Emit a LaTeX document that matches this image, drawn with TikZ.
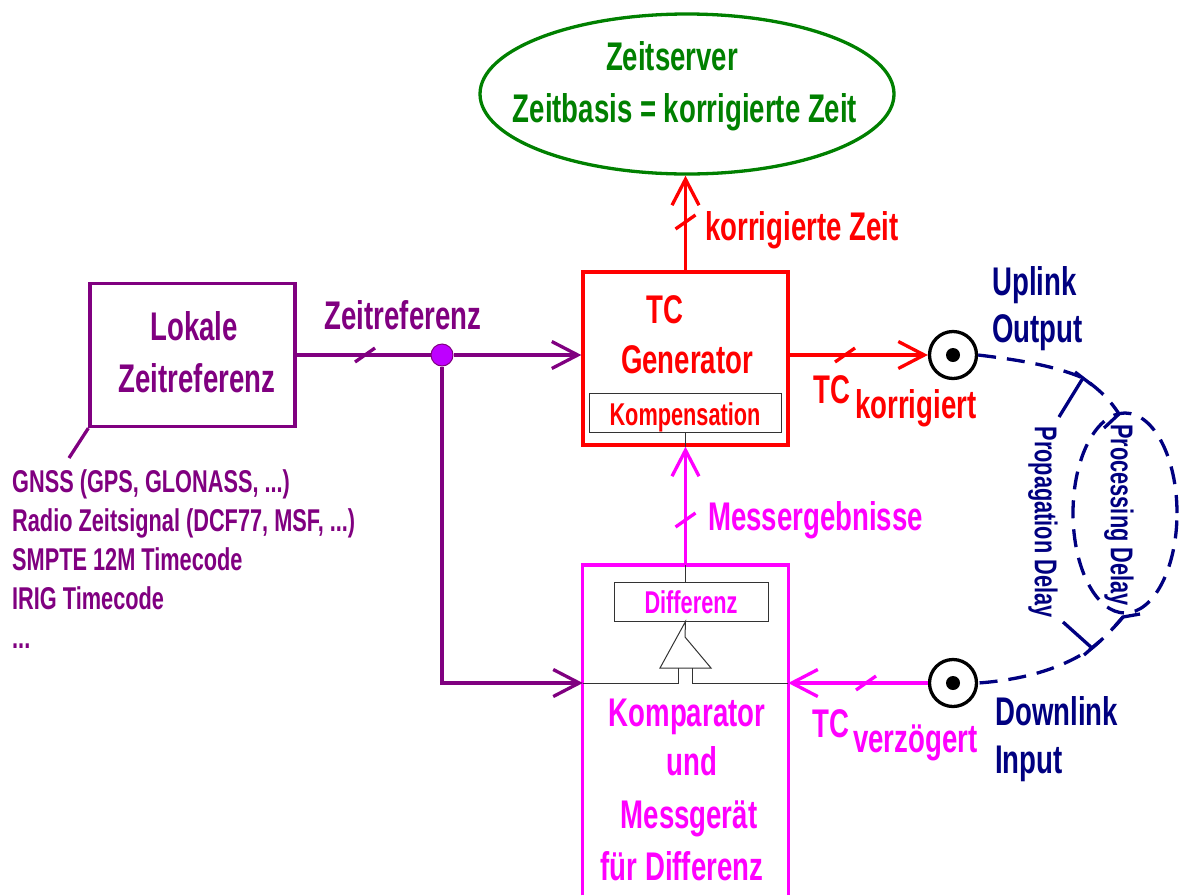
\documentclass[tikz,border=0pt]{standalone}
\usepackage{fontspec}
\setmainfont[FakeStretch=0.69]{Liberation Sans}
\usepackage{tikz}
\usepackage{xcolor}
\usetikzlibrary{shapes.geometric, arrows.meta, positioning}
\definecolor{lila}{RGB}{128,0,128}
\definecolor{punkt}{RGB}{190,0,255}
\definecolor{rot}{RGB}{255,0,0}
\definecolor{rosa}{RGB}{255,0,255}
\definecolor{gruen}{RGB}{0,128,0}
\definecolor{blau}{RGB}{0,0,128}
\tikzstyle{block}=[line width=3.3pt,draw,rectangle]
\tikzstyle{innen}=[line width=1pt,draw=black!80,rectangle]
\tikzstyle{duenn}=[line width=1pt,black!80]
\tikzstyle{txt}=[inner sep=0pt,anchor=base,font=\bfseries\fontsize{40}{44}\selectfont]
\tikzstyle{klein}=[inner sep=0pt,anchor=base,font=\bfseries\fontsize{31.5}{34}\selectfont]
\tikzstyle{leitung}=[line width=3.3pt]
\tikzstyle{pfeil}=[line width=3.3pt,-{Straight Barb[length=26pt,width=27pt]}]
\tikzstyle{port}=[line width=3.3pt,draw=black,circle,minimum size=47pt,inner sep=0pt]
\tikzstyle{delay}=[line width=3.3pt,draw=blau,dash pattern=on 18pt off 11pt]
\tikzset{tick/.pic={\draw[line width=3.3pt] (-10pt,-7pt) -- (10pt,7pt);}}

\begin{document}
\begin{tikzpicture}[x=1pt,y=-1pt]
	\useasboundingbox (0,0) rectangle (1180,895);

	% Zeitserver
	\node [ellipse, draw=gruen, line width=3.3pt, minimum width=414pt, minimum height=160pt] (server) at (687,94) {};
	\node [txt, gruen] (servername) at (672,70) {Zeitserver};
	\node [txt, gruen] (zeitbasis) at (685,122) {Zeitbasis = korrigierte Zeit};

	% Lokale Zeitreferenz
	\node [block, draw=lila, minimum width=205pt, minimum height=143pt] (lokal) at (192.5,355) {};
	\node [txt, lila] (lokal1) at (194,340) {Lokale};
	\node [txt, lila] (lokal2) at (197,392) {Zeitreferenz};
	\coordinate (quellenstrich) at (69,458);
	\node [klein, lila, anchor=base west] (gnss) at (12,492) {GNSS (GPS, GLONASS, ...)};
	\node [klein, lila, anchor=base west] (radio) at (12,531) {Radio Zeitsignal (DCF77, MSF, ...)};
	\node [klein, lila, anchor=base west] (smpte) at (12,570) {SMPTE 12M Timecode};
	\node [klein, lila, anchor=base west] (irig) at (12,609) {IRIG Timecode};
	\node [klein, lila, anchor=base west] (mehr) at (12,648) {...};
	\draw[leitung, lila] (lokal.south west) -- (quellenstrich);

	% TC Generator
	\node [block, draw=rot, minimum width=205pt, minimum height=173pt] (tcgen) at (685.5,358.5) {};
	\node [txt, rot] (tcname) at (665,323) {TC};
	\node [txt, rot] (genname) at (687,373) {Generator};
	\node [innen, minimum width=192pt, minimum height=39pt] (kompensation) at (685,412.5) {};
	\node [klein, rot] (kompname) at (685,425) {Kompensation};
	\draw[duenn] (kompensation.south) -- (kompensation.south |- tcgen.south);

	% Komparator
	\node [minimum width=205pt, minimum height=330pt, anchor=north] (komparator) at (685.5,565) {};
	\draw[leitung, rosa] (komparator.south west) -- (komparator.north west) -- (komparator.north east) -- (komparator.south east);
	\node [innen, minimum width=154pt, minimum height=39pt] (differenz) at (691,601.5) {};
	\node [klein, rosa] (diffname) at (691,613) {Differenz};
	\node [txt, rosa] (komp1) at (687,726) {Komparator};
	\node [txt, rosa] (komp2) at (692,775) {und};
	\node [txt, rosa] (komp3) at (689,828) {Messgerät};
	\node [txt, rosa] (komp4) at (682,880) {für Differenz};

	% Anschluesse
	\node [port] (uplink) at (953,355) {};
	\node [port] (downlink) at (953,683) {};
	\fill (uplink) circle (7pt);
	\fill (downlink) circle (7pt);
	\node [txt, blau, anchor=base west] (up1) at (992,295) {Uplink};
	\node [txt, blau, anchor=base west] (up2) at (992,342) {Output};
	\node [txt, blau, anchor=base west] (down1) at (995,725) {Downlink};
	\node [txt, blau, anchor=base west] (down2) at (995,773) {Input};

	% Zeitreferenz
	\node [circle, fill=punkt, draw=lila, line width=1pt, minimum size=22pt, inner sep=0pt] (knoten) at (442,355) {};
	\draw[leitung, lila] (lokal.east |- knoten) -- (knoten);
	\draw[pfeil, lila] (knoten) -- (knoten -| tcgen.west);
	\draw[pfeil, lila] (knoten) |- (komparator.west |- downlink);
	\pic[lila] at (365,355) {tick};
	\node [txt, lila] (refname) at (403,329) {Zeitreferenz};

	% korrigierte Zeit
	\draw[pfeil, rot] (tcgen.north) -- (tcgen.north |- server.south);
	\pic[rot] at (685.5,222) {tick};
	\node [txt, rot, anchor=base west] (korrname) at (705,240) {korrigierte Zeit};
	\draw[pfeil, rot] (tcgen.east |- uplink) -- (uplink);
	\pic[rot] at (845,355) {tick};
	\node [txt, rot, anchor=base west] (tcout) at (813,403) {TC};
	\node [txt, rot, anchor=base west] (tcout2) at (855,418) {korrigiert};

	% Messergebnisse
	\draw[pfeil, rosa] (komparator.north) -- (tcgen.south);
	\pic[rosa] at (685.5,520) {tick};
	\node [txt, rosa, anchor=base west] (messname) at (708,530) {Messergebnisse};
	\draw[pfeil, rosa] (downlink) -- (downlink -| komparator.east);
	\pic[rosa] at (866,683) {tick};
	\node [txt, rosa, anchor=base west] (tcin) at (812,737) {TC};
	\node [txt, rosa, anchor=base west] (tcin2) at (853,752) {verzögert};

	% Differenzglied
	\draw[duenn] (komparator.north) -- (komparator.north |- differenz.north);
	\draw[duenn] (komparator.north |- differenz.south) -- (685,637) -- (711,668) -- (660,668) -- cycle;
	\draw[duenn] (komparator.west |- downlink) -- (678,683) -- (678,668);
	\draw[duenn] (komparator.east |- downlink) -- (692,683) -- (692,668);

	% Laufzeiten
	\node [ellipse, delay, minimum width=104pt, minimum height=200pt] (verarbeitung) at (1125,513) {};
	\coordinate (oben) at (1083,378);
	\coordinate (unten) at (1092,648);
	\coordinate (procoben) at (1119,414);
	\coordinate (procunten) at (1123,617);
	\draw[delay] (uplink.east) .. controls (1020,360) and (1055,366) .. (oben) .. controls (1100,390) and (1110,400) .. (procoben);
	\draw[delay] (procunten) .. controls (1112,630) and (1102,640) .. (unten) .. controls (1060,670) and (1020,680) .. (downlink.east);
	\draw[leitung, blau] (oben) -- (1059,417);
	\draw[leitung, blau] (1075,372) -- (1092,385);
	\draw[leitung, blau] (unten) -- (1063,622);
	\draw[leitung, blau] (1084,655) -- (1100,641);
	\draw[leitung, blau] (procoben) -- (1104,428);
	\draw[leitung, blau] (1115,626) -- (procunten) -- (1140,614);
	\node [klein, blau, rotate=-90, anchor=center] (laufzeit) at (1043,522) {Propagation Delay};
	\node [klein, blau, rotate=-90, anchor=center] (verzoeg) at (1119,515) {Processing Delay};
\end{tikzpicture}
\end{document}
